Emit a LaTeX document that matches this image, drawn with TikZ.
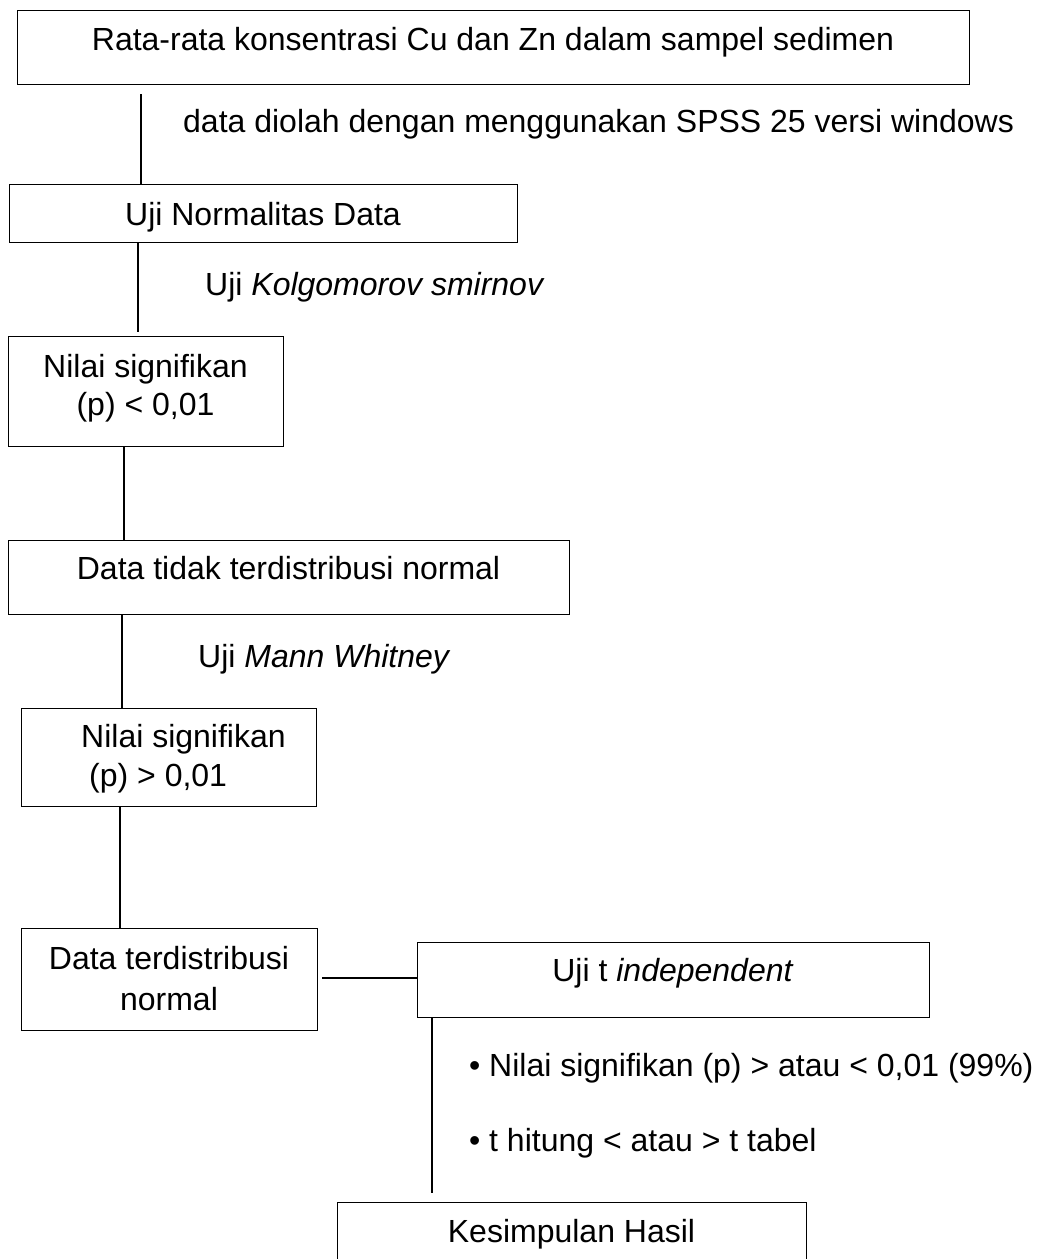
\documentclass[tikz,border=0pt]{standalone}
\usepackage{fontspec}
\setmainfont{Liberation Sans}
\begin{document}
\begin{tikzpicture}[x=1pt,y=-1pt,
  box/.style={draw, line width=1.3pt, inner sep=0pt, anchor=north west},
  conn/.style={line width=2pt},
  txt/.style={anchor=base, inner sep=0pt, font=\fontsize{32}{38}\selectfont}]
\useasboundingbox (0,0) rectangle (1040,1259);
% boxes
\node[box, minimum width=952, minimum height=74] (top) at (17,10) {};
\node[box, minimum width=508, minimum height=58] (norm) at (9,184) {};
\node[box, minimum width=275, minimum height=110] (sig1) at (8,336) {};
\node[box, minimum width=561, minimum height=74] (tidak) at (8,540) {};
\node[box, minimum width=295, minimum height=98] (sig2) at (21,708) {};
\node[box, minimum width=296, minimum height=102] (dist) at (21,928) {};
\node[box, minimum width=512, minimum height=75] (ttest) at (417,942) {};
\node[box, minimum width=469, minimum height=64] (hasil) at (337,1202) {};
% box texts
\node[txt] (ttop) at (493,50) {Rata-rata konsentrasi Cu dan Zn dalam sampel sedimen};
\node[txt] (tnorm) at (263,225) {Uji Normalitas Data};
\node[txt] (tsig1a) at (145.5,377) {Nilai signifikan};
\node[txt] (tsig1b) at (145.5,415) {(p) < 0,01};
\node[txt] (ttidak) at (288.5,579) {Data tidak terdistribusi normal};
\node[txt, anchor=base west] (tsig2a) at (81,747) {Nilai signifikan};
\node[txt, anchor=base west] (tsig2b) at (89,786) {(p) > 0,01};
\node[txt] (tdista) at (169,969) {Data terdistribusi};
\node[txt] (tdistb) at (169,1010) {normal};
\node[txt] (tttest) at (673,981) {Uji t \textit{independent}};
\node[txt] (thasil) at (571.5,1242) {Kesimpulan Hasil};
% connector labels
\node[txt, anchor=base west] (l1) at (183,132) {data diolah dengan menggunakan SPSS 25 versi windows};
\node[txt, anchor=base west] (l2) at (205,295) {Uji \textit{Kolgomorov smirnov}};
\node[txt, anchor=base west] (l3) at (198,667) {Uji \textit{Mann Whitney}};
\node[txt, anchor=base west] (l4) at (469,1076) {•\hspace{8.8pt}Nilai signifikan (p) > atau < 0,01 (99\%)};
\node[txt, anchor=base west] (l5) at (469,1151) {•\hspace{8.8pt}t hitung < atau > t tabel};
% connectors
\coordinate (c1) at (141,0);
\coordinate (c2) at (138,0);
\coordinate (c3) at (124,0);
\coordinate (c4) at (122,0);
\coordinate (c5) at (120,0);
\coordinate (c6) at (432,0);
\coordinate (r) at (0,978);
\draw[conn, shorten <=9pt] (top.south -| c1) -- (norm.north -| c1);
\draw[conn, shorten >=4pt] (norm.south -| c2) -- (sig1.north -| c2);
\draw[conn] (sig1.south -| c3) -- (tidak.north -| c3);
\draw[conn] (tidak.south -| c4) -- (sig2.north -| c4);
\draw[conn] (sig2.south -| c5) -- (dist.north -| c5);
\draw[line width=1.5pt, shorten <=4pt] (dist.east |- r) -- (ttest.west |- r);
\draw[conn, shorten >=9pt] (ttest.south -| c6) -- (hasil.north -| c6);
\end{tikzpicture}
\end{document}
